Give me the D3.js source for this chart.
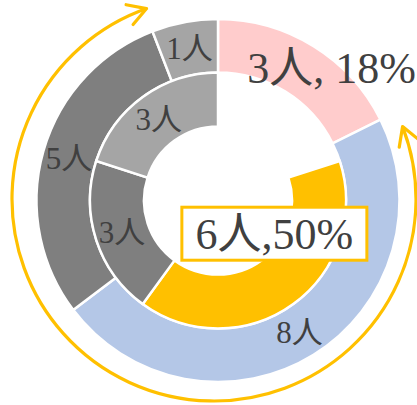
<!DOCTYPE html>
<html>
<head>
<meta charset="utf-8">
<script src="https://cdn.jsdelivr.net/npm/d3@7"></script>
<style>
  html, body { margin: 0; padding: 0; background: #ffffff; }
  svg { display: block; }
</style>
</head>
<body>
<div id="chart"></div>
<script>
// ---- data ----
const outerCategories = ["A", "B", "C", "D"];
const outerValues = [3, 8, 5, 1];
const outerLabels = ["3人, 18%", "8人", "5人", "1人"];
const outerColors = ["#FFCCCC", "#B4C7E7", "#7F7F7F", "#A5A5A5"];

const innerCategories = ["blank", "A", "B", "C"];
const innerValues = [3, 6, 3, 3];
const innerLabels = ["", "6人,50%", "3人", "3人"];
const innerColors = ["none", "#FFC000", "#7F7F7F", "#A5A5A5"];

// ---- layout ----
const W = 417, H = 405;
const cx = 218, cy = 200.5;
const textColor = "#404040";
const fontFam = "'Liberation Serif', 'Noto Sans CJK JP', serif";

const svg = d3.select("#chart").append("svg")
  .attr("width", W).attr("height", H)
  .attr("viewBox", `0 0 ${W} ${H}`);

const pie = d3.pie().sort(null).value(d => d);

const outerArc = d3.arc().innerRadius(128).outerRadius(181.5);
const innerArc = d3.arc().innerRadius(74).outerRadius(128);
const outerLabelArc = d3.arc().innerRadius(155).outerRadius(155);
const innerLabelArc = d3.arc().innerRadius(101).outerRadius(101);

const g = svg.append("g").attr("transform", `translate(${cx},${cy})`);

const outerPie = pie(outerValues);
const innerPie = pie(innerValues);

g.selectAll("path.outer").data(outerPie).join("path")
  .attr("class", "outer")
  .attr("d", outerArc)
  .attr("fill", (d, i) => outerColors[i])
  .attr("stroke", "#ffffff")
  .attr("stroke-width", 2.5)
  .attr("stroke-linejoin", "miter");

g.selectAll("path.inner").data(innerPie).join("path")
  .attr("class", "inner")
  .attr("d", innerArc)
  .attr("fill", (d, i) => innerColors[i])
  .attr("stroke", (d, i) => innerColors[i] === "none" ? "none" : "#ffffff")
  .attr("stroke-width", 2.5);

// ---- circular double arrow ----
const acx = 214, acy = 199, ar = 202;
const deg = Math.PI / 180;
const defs = svg.append("defs");
defs.append("marker")
  .attr("id", "chev")
  .attr("markerUnits", "userSpaceOnUse")
  .attr("viewBox", "-22 -13 26 26")
  .attr("refX", 0).attr("refY", 0)
  .attr("markerWidth", 26).attr("markerHeight", 26)
  .attr("orient", "auto-start-reverse")
  .append("path")
  .attr("d", "M-18,-10.5 L0,0 L-18,10.5")
  .attr("fill", "none")
  .attr("stroke", "#FFC000")
  .attr("stroke-width", 3.2)
  .attr("stroke-linecap", "round")
  .attr("stroke-linejoin", "round");

const p = d3.path();
const a0 = (69 - 90) * deg, a1 = (340.5 - 90) * deg;
p.moveTo(acx + ar * Math.cos(a0), acy + ar * Math.sin(a0));
p.arc(acx, acy, ar, a0, a1, false);
svg.append("path")
  .attr("d", p.toString())
  .attr("fill", "none")
  .attr("stroke", "#FFC000")
  .attr("stroke-width", 3.2)
  .attr("marker-start", "url(#chev)")
  .attr("marker-end", "url(#chev)");

// ---- labels ----
// outer ring labels
const outerOffsets = [[32, -1], [0, 0], [0, 0], [0, 0]];
const outerSizes = [44, 31, 31, 31];
g.selectAll("text.outer").data(outerPie).join("text")
  .attr("class", "outer")
  .attr("x", (d, i) => outerLabelArc.centroid(d)[0] + outerOffsets[i][0])
  .attr("y", (d, i) => outerLabelArc.centroid(d)[1] + outerOffsets[i][1])
  .attr("dy", "0.35em")
  .attr("text-anchor", "middle")
  .attr("font-family", fontFam)
  .attr("font-size", (d, i) => outerSizes[i])
  .attr("fill", textColor)
  .text((d, i) => outerLabels[i]);

// inner ring labels
const innerOffsets = [[0, 0], [-3, -49], [0, 0], [0, 0]];
const innerSizes = [31, 44, 31, 31];
const innerText = g.selectAll("g.ilab").data(innerPie).join("g")
  .attr("class", "ilab")
  .attr("transform", (d, i) => {
    const c = innerLabelArc.centroid(d);
    return `translate(${c[0] + innerOffsets[i][0]},${c[1] + innerOffsets[i][1]})`;
  });

innerText.each(function(d, i) {
  if (!innerLabels[i]) return;
  const gg = d3.select(this);
  if (innerSizes[i] > 40) {
    gg.append("rect")
      .attr("x", -92.5).attr("y", -26)
      .attr("width", 185).attr("height", 53)
      .attr("fill", "#ffffff")
      .attr("stroke", "#FFC000")
      .attr("stroke-width", 3);
  }
  gg.append("text")
    .attr("dy", "0.35em")
    .attr("text-anchor", "middle")
    .attr("font-family", fontFam)
    .attr("font-size", innerSizes[i])
    .attr("fill", textColor)
    .text(innerLabels[i]);
});
</script>
</body>
</html>
